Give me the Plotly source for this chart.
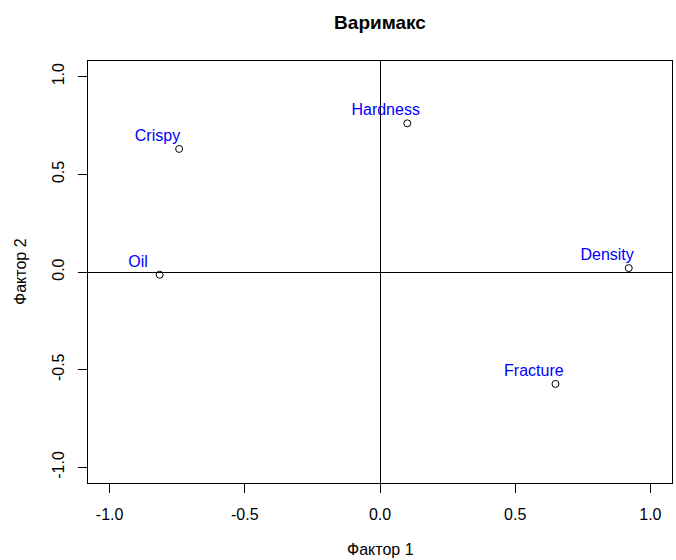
import plotly.graph_objects as go

variables = ["Crispy", "Hardness", "Oil", "Density", "Fracture"]
factor1 = [-0.743, 0.101, -0.815, 0.920, 0.649]
factor2 = [0.630, 0.761, -0.014, 0.020, -0.573]
tick_vals = [-1.0, -0.5, 0.0, 0.5, 1.0]
tick_text = ["-1.0", "-0.5", "0.0", "0.5", "1.0"]

FONT = "Liberation Sans, Arial, sans-serif"
L, R, T, B = 88, 4, 61, 77
W, H = 676, 560
pw, ph = W - L - R, H - T - B

fig = go.Figure()
fig.add_trace(go.Scatter(
    x=factor1, y=factor2, mode="markers",
    marker=dict(symbol="circle-open", size=7, color="black", line=dict(width=1, color="black")),
    hoverinfo="skip", showlegend=False,
))
fig.add_trace(go.Scatter(
    x=[v - 0.08 for v in factor1], y=[v + 0.062 for v in factor2],
    mode="text", text=variables,
    textfont=dict(family=FONT, size=16, color="#0000FF"),
    textposition="middle center", hoverinfo="skip", showlegend=False,
))

axis_common = dict(
    range=[-1.08, 1.08], tickvals=tick_vals, ticktext=tick_text,
    showgrid=False, zeroline=True, zerolinecolor="black", zerolinewidth=1,
    showline=True, mirror=True, linecolor="black", linewidth=1,
    ticks="outside", ticklen=9, tickcolor="black", tickwidth=1,
    ticklabelstandoff=8,
    tickfont=dict(family=FONT, size=16, color="black"),
)

fig.update_layout(
    width=W, height=H,
    margin=dict(l=L, r=R, t=T, b=B, pad=0, autoexpand=False),
    plot_bgcolor="white", paper_bgcolor="white",
    title=dict(text="<b>Варимакс</b>", x=0.5, xref="paper", xanchor="center",
               y=1 - 22 / H, yref="container", yanchor="middle",
               font=dict(family=FONT, size=19, color="black")),
    xaxis=dict(**axis_common),
    yaxis=dict(**axis_common, tickangle=-90),
    annotations=[
        dict(text="Фактор 1", xref="paper", yref="paper", x=0.5, y=-(549 - (T + ph)) / ph,
             xanchor="center", yanchor="middle", showarrow=False,
             font=dict(family=FONT, size=16, color="black")),
        dict(text="Фактор 2", xref="paper", yref="paper", x=-(L - 20) / pw, y=0.5,
             xanchor="center", yanchor="middle", showarrow=False, textangle=-90,
             font=dict(family=FONT, size=16, color="black")),
    ],
)

fig.write_html("out.html", config={"displayModeBar": False},
               post_script="document.body.style.margin='0';document.body.style.overflow='hidden';")
